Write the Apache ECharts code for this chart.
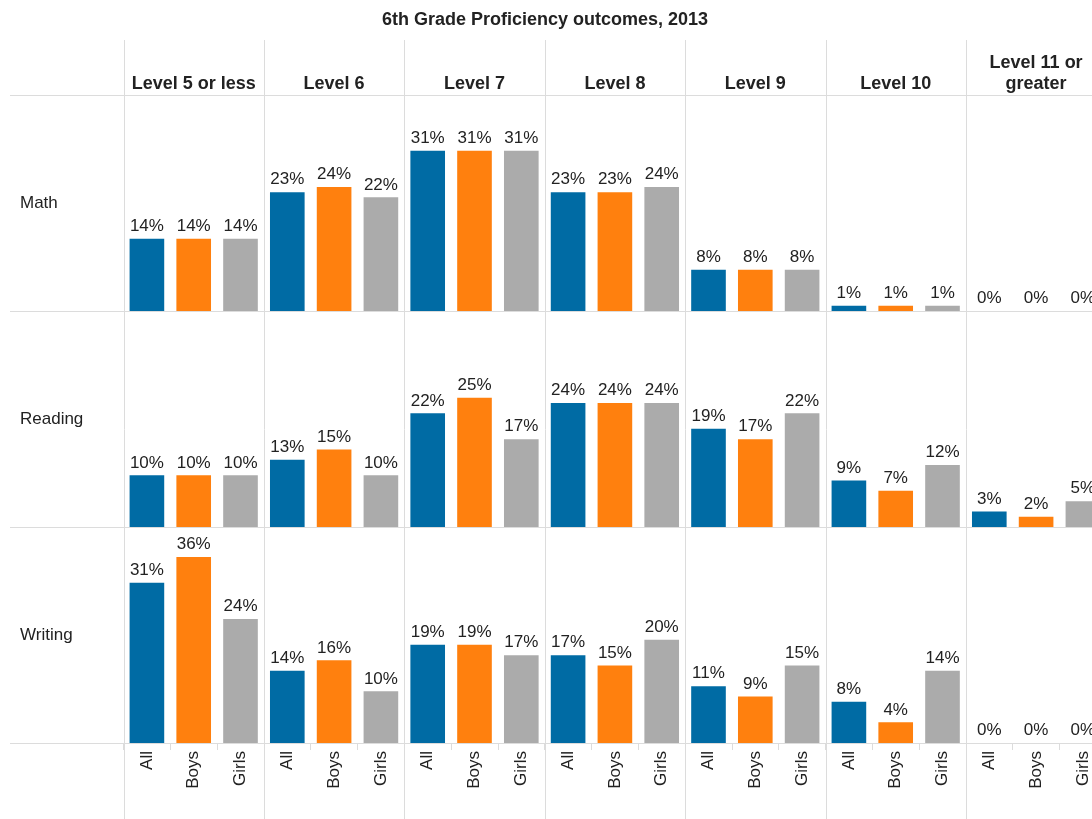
<!DOCTYPE html>
<html>
<head>
<meta charset="utf-8">
<script src="https://cdn.jsdelivr.net/npm/echarts@6/dist/echarts.min.js"></script>
<style>
  html, body { margin: 0; padding: 0; background: #fff; overflow: hidden; }
  /* the original view is cut off on the right, so the canvas is wider than the window */
  #chart { width: 1110px; height: 819px; }
</style>
</head>
<body>
<div id="chart"></div>
<script>
// data
const levels = ['Level 5 or less', 'Level 6', 'Level 7', 'Level 8', 'Level 9', 'Level 10', 'Level 11 or\ngreater']
const subjects = ['Math', 'Reading', 'Writing']
const groups = ['All', 'Boys', 'Girls']
const groupColors = ['#006BA4', '#FF800E', '#ABABAB']

// values per level: [All, Boys, Girls]
const mathValues = [[14, 14, 14], [23, 24, 22], [31, 31, 31], [23, 23, 24], [8, 8, 8], [1, 1, 1], [0, 0, 0]]
const readingValues = [[10, 10, 10], [13, 15, 10], [22, 25, 17], [24, 24, 24], [19, 17, 22], [9, 7, 12], [3, 2, 5]]
const writingValues = [[31, 36, 24], [14, 16, 10], [19, 19, 17], [17, 15, 20], [11, 9, 15], [8, 4, 14], [0, 0, 0]]
const subjectValues = [mathValues, readingValues, writingValues]

const chartTitle = '6th Grade Proficiency outcomes, 2013'

// layout
const FONT = 'Liberation Sans, Arial, Helvetica, sans-serif'
const W = 1110
const colLeft0 = 123.5
const colWidth = 140.4
const rowTop0 = 95
const rowHeight = 216
const yMax = 41.8
const lineColor = '#dcdcdc'

const grids = []
const xAxes = []
const yAxes = []
const series = []
const graphics = []

subjects.forEach((subject, r) => {
  const isBottom = r === subjects.length - 1
  levels.forEach((level, c) => {
    const idx = r * levels.length + c
    grids.push({
      left: colLeft0 + c * colWidth,
      width: colWidth,
      top: rowTop0 + r * rowHeight,
      height: rowHeight
    })
    xAxes.push({
      type: 'category',
      gridIndex: idx,
      data: groups,
      axisLine: { show: false },
      axisTick: {
        show: isBottom,
        length: 7,
        lineStyle: { color: lineColor }
      },
      axisLabel: {
        show: isBottom,
        rotate: 90,
        margin: 8,
        fontFamily: FONT,
        fontSize: 17,
        color: '#222'
      }
    })
    yAxes.push({
      type: 'value',
      gridIndex: idx,
      min: 0,
      max: yMax,
      show: false
    })
    series.push({
      type: 'bar',
      xAxisIndex: idx,
      yAxisIndex: idx,
      barCategoryGap: '26%',
      data: subjectValues[r][c],
      itemStyle: {
        color: p => groupColors[p.dataIndex]
      },
      label: {
        show: true,
        position: 'top',
        distance: 4,
        formatter: '{c}%',
        fontFamily: FONT,
        fontSize: 17,
        color: '#222'
      },
      silent: true
    })
  })

  // row label
  graphics.push({
    type: 'text',
    x: 20,
    y: rowTop0 + r * rowHeight + rowHeight / 2,
    style: { text: subject, font: '17px ' + FONT, fill: '#222', verticalAlign: 'middle' }
  })
})

// title
graphics.push({
  type: 'text',
  x: 545,
  y: 20,
  style: {
    text: chartTitle,
    font: 'bold 18px ' + FONT,
    fill: '#222',
    align: 'center',
    verticalAlign: 'middle'
  }
})

// column headers
levels.forEach((level, c) => {
  graphics.push({
    type: 'text',
    x: colLeft0 + c * colWidth + colWidth / 2,
    y: 95,
    style: {
      text: level,
      font: 'bold 18px ' + FONT,
      fill: '#222',
      align: 'center',
      verticalAlign: 'bottom',
      lineHeight: 21
    }
  })
})

// divider lines
for (let c = 0; c <= levels.length; c++) {
  const x = Math.round(colLeft0 + c * colWidth) + 0.5
  graphics.push({
    type: 'line',
    shape: { x1: x, y1: 40, x2: x, y2: 819 },
    style: { stroke: lineColor, lineWidth: 1 },
    z: -1
  })
}
for (let r = 0; r <= subjects.length; r++) {
  const y = rowTop0 + r * rowHeight + 0.5
  graphics.push({
    type: 'line',
    shape: { x1: 10, y1: y, x2: W, y2: y },
    style: { stroke: lineColor, lineWidth: 1 },
    z: -1
  })
}

const chart = echarts.init(document.getElementById('chart'))
chart.setOption({
  animation: false,
  grid: grids,
  xAxis: xAxes,
  yAxis: yAxes,
  series: series,
  graphic: graphics
})
</script>
</body>
</html>
